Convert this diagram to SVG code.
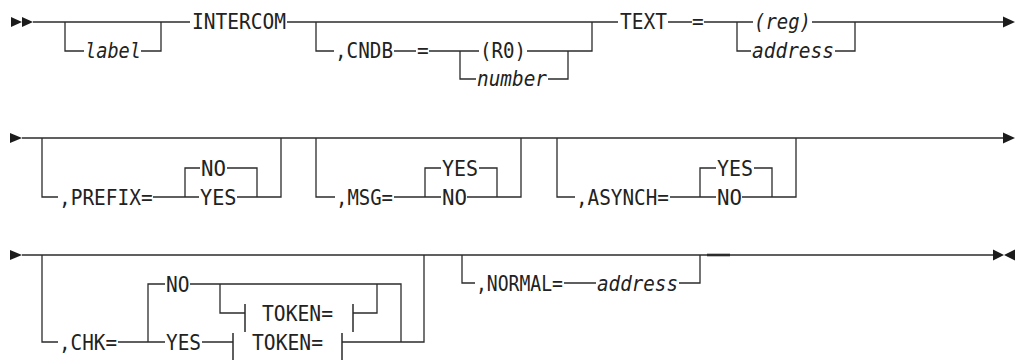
<svg xmlns="http://www.w3.org/2000/svg" width="1021" height="360" viewBox="0 0 1021 360">
<style>
.ln{fill:none;stroke:#2b2b2b;stroke-width:1.3}
.tk{fill:none;stroke:#2b2b2b;stroke-width:1.5}
.t{font-family:"DejaVu Sans Mono","Liberation Mono",monospace;font-size:21px;fill:#222}
.i{font-style:italic}
.ar{fill:#1c1c1c}
</style>
<rect width="1021" height="360" fill="#fff"/>
<g id="connectors">
  <!-- row 1 -->
  <path class="ln" d="M33,22 H190"/>
  <path class="ln" d="M65,22 V51 H84 M141,51 H161 V22"/>
  <path class="ln" d="M287,22 H618"/>
  <path class="ln" d="M316,22 V51 H334 M394,51 H416 M429,51 H479 M460,51 V79 H476 M527,51 H592 V22 M568,51 V79 H548"/>
  <path class="ln" d="M668,22 H692 M704,22 H753 M737,22 V51 H751 M812,22 H1003 M835,51 H855 V22"/>
  <!-- row 2 -->
  <path class="ln" d="M22,138 H1003"/>
  <path class="ln" d="M42,138 V197 H58 M153,197 H199 M185,197 V168 H200 M227,168 H257 V197 H237 M257,197 H281 V138"/>
  <path class="ln" d="M316,138 V197 H335 M394,197 H441 M425,197 V168 H441 M479,168 H497 V197 H467 M497,197 H521 V138"/>
  <path class="ln" d="M557,138 V197 H575 M670,197 H716 M700,197 V168 H716 M754,168 H772 V197 H742 M772,197 H796 V138"/>
  <!-- row 3 -->
  <path class="ln" d="M22,255 H993"/>
  <path class="ln" d="M42,255 V342 H58 M118,342 H165 M148,342 V284 H165 M190,284 H401 V342 M220,284 V313 H245 M353,313 H377 V284 M202,342 H233 M342,342 H424 V255"/>
  <path class="tk" d="M245,304 V332 M353,304 V332 M233,333 V360 M342,333 V360"/>
  <path class="ln" d="M462,255 V283 H475 M564,283 H596 M679,283 H700 V255"/>
  <path class="ln" d="M707,255 H730" style="stroke-width:2.6"/>
</g>
<g id="start1"><polygon class="ar" points="11,17 22,22 11,27"/><polygon class="ar" points="22,17 33,22 22,27"/></g>
<g id="end1"><polygon class="ar" points="1003,16.5 1015,22 1003,27.5"/></g>
<g id="start2"><polygon class="ar" points="10,133 22,138 10,143"/></g>
<g id="end2"><polygon class="ar" points="1003,132.5 1015,138 1003,143.5"/></g>
<g id="start3"><polygon class="ar" points="10,250 22,255 10,260"/></g>
<g id="end3"><polygon class="ar" points="993,249.5 1004,255 993,260.5"/><polygon class="ar" points="1015,249.5 1004,255 1015,260.5"/></g>
<g id="n-label"><text class="t i" x="85" y="58" textLength="56" lengthAdjust="spacingAndGlyphs">label</text></g>
<g id="n-intercom"><text class="t" x="192" y="29" textLength="94" lengthAdjust="spacingAndGlyphs">INTERCOM</text></g>
<g id="n-cndb"><text class="t" x="335" y="58" textLength="58" lengthAdjust="spacingAndGlyphs">,CNDB</text></g>
<g id="n-eq1"><text class="t" x="417" y="58" textLength="11.7" lengthAdjust="spacingAndGlyphs">=</text></g>
<g id="n-r0"><text class="t" x="480" y="58" textLength="46" lengthAdjust="spacingAndGlyphs">(R0)</text></g>
<g id="n-number"><text class="t i" x="477" y="86" textLength="70" lengthAdjust="spacingAndGlyphs">number</text></g>
<g id="n-text"><text class="t" x="620" y="29" textLength="47" lengthAdjust="spacingAndGlyphs">TEXT</text></g>
<g id="n-eq2"><text class="t" x="692" y="29" textLength="11.7" lengthAdjust="spacingAndGlyphs">=</text></g>
<g id="n-reg"><text class="t i" x="754" y="29" textLength="57" lengthAdjust="spacingAndGlyphs">(reg)</text></g>
<g id="n-address1"><text class="t i" x="752" y="58" textLength="82" lengthAdjust="spacingAndGlyphs">address</text></g>
<g id="n-prefix"><text class="t" x="59" y="205" textLength="93.6" lengthAdjust="spacingAndGlyphs">,PREFIX=</text></g>
<g id="n-prefix-no"><text class="t" x="201" y="176" textLength="25" lengthAdjust="spacingAndGlyphs">NO</text></g>
<g id="n-prefix-yes"><text class="t" x="200" y="205" textLength="36.5" lengthAdjust="spacingAndGlyphs">YES</text></g>
<g id="n-msg"><text class="t" x="336" y="205" textLength="57" lengthAdjust="spacingAndGlyphs">,MSG=</text></g>
<g id="n-msg-yes"><text class="t" x="442" y="176" textLength="36" lengthAdjust="spacingAndGlyphs">YES</text></g>
<g id="n-msg-no"><text class="t" x="442" y="205" textLength="25" lengthAdjust="spacingAndGlyphs">NO</text></g>
<g id="n-asynch"><text class="t" x="576" y="205" textLength="93" lengthAdjust="spacingAndGlyphs">,ASYNCH=</text></g>
<g id="n-asynch-yes"><text class="t" x="717" y="176" textLength="36" lengthAdjust="spacingAndGlyphs">YES</text></g>
<g id="n-asynch-no"><text class="t" x="717" y="205" textLength="25" lengthAdjust="spacingAndGlyphs">NO</text></g>
<g id="n-chk"><text class="t" x="59" y="350" textLength="58" lengthAdjust="spacingAndGlyphs">,CHK=</text></g>
<g id="n-chk-no"><text class="t" x="166" y="292" textLength="23.5" lengthAdjust="spacingAndGlyphs">NO</text></g>
<g id="n-chk-yes"><text class="t" x="166" y="350" textLength="35" lengthAdjust="spacingAndGlyphs">YES</text></g>
<g id="n-token1"><text class="t" x="262" y="321" textLength="71" lengthAdjust="spacingAndGlyphs">TOKEN=</text></g>
<g id="n-token2"><text class="t" x="252" y="350" textLength="71" lengthAdjust="spacingAndGlyphs">TOKEN=</text></g>
<g id="n-normal"><text class="t" x="476" y="291" textLength="87" lengthAdjust="spacingAndGlyphs">,NORMAL=</text></g>
<g id="n-address2"><text class="t i" x="597" y="291" textLength="81" lengthAdjust="spacingAndGlyphs">address</text></g>
</svg>
